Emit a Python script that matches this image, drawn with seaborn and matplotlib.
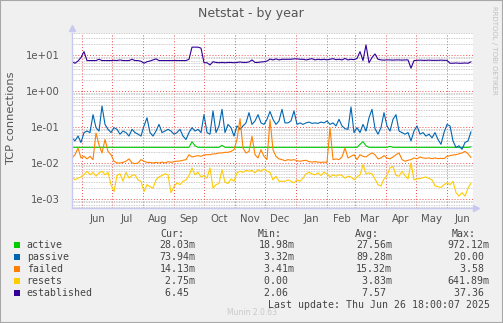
import numpy as np
import pandas as pd
import matplotlib
matplotlib.use("Agg")
import matplotlib.pyplot as plt
import matplotlib.dates as mdates
from matplotlib.ticker import LogLocator, NullFormatter, FixedFormatter
from matplotlib.patches import Rectangle
import seaborn as sns

# ---- data: samples every 3 days, 2024-05-22 .. 2025-06-25 ----
start_date = "2024-05-22"
n_samples = 134

active = [
    0.0272, 0.0272, 0.0272, 0.0272, 0.0272, 0.0272, 0.0272, 0.0272, 0.0272, 0.0272,
    0.0272, 0.0272, 0.0272, 0.0272, 0.0272, 0.0272, 0.0272, 0.0272, 0.0272, 0.0272,
    0.0272, 0.0272, 0.0272, 0.0272, 0.0272, 0.0272, 0.0272, 0.0272, 0.0272, 0.0272,
    0.0272, 0.0272, 0.0272, 0.0272, 0.0272, 0.0272, 0.0272, 0.0272, 0.0272, 0.0272,
    0.039, 0.030, 0.0272, 0.0272, 0.0272, 0.0272, 0.0272, 0.0272, 0.0272, 0.0272,
    0.031, 0.0272, 0.0272, 0.0272, 0.0272, 0.0272, 0.0272, 0.0272, 0.0272, 0.0272,
    0.0272, 0.0272, 0.0272, 0.0272, 0.0272, 0.0272, 0.0272, 0.0272, 0.0272, 0.0272,
    0.0272, 0.0272, 0.0272, 0.0272, 0.0272, 0.0272, 0.0272, 0.0272, 0.0272, 0.0272,
    0.0272, 0.0272, 0.0272, 0.0272, 0.0272, 0.0272, 0.0272, 0.0272, 0.0272, 0.0272,
    0.0272, 0.0272, 0.0272, 0.0272, 0.0272, 0.0272, 0.033, 0.039, 0.030, 0.0272,
    0.0272, 0.0272, 0.0272, 0.0272, 0.0272, 0.0272, 0.029, 0.0272, 0.0272, 0.0272,
    0.0272, 0.0272, 0.0272, 0.0272, 0.0272, 0.0272, 0.0272, 0.0272, 0.0272, 0.0272,
    0.0272, 0.0272, 0.0272, 0.0272, 0.0272, 0.0272, 0.0272, 0.0272, 0.0272, 0.0272,
    0.0272, 0.0272, 0.0272, 0.02803,
]

passive = [
    0.050, 0.041, 0.056, 0.037, 0.070, 0.077, 0.070, 0.22, 0.096, 0.077,
    0.38, 0.118, 0.086, 0.070, 0.096, 0.086, 0.063, 0.077, 0.070, 0.056,
    0.086, 0.070, 0.063, 0.056, 0.107, 0.18, 0.070, 0.056, 0.077, 0.118,
    0.070, 0.077, 0.086, 0.077, 0.063, 0.070, 0.086, 0.056, 0.045, 0.070,
    0.096, 0.077, 0.086, 0.070, 0.22, 0.070, 0.063, 0.28, 0.070, 0.107,
    0.31, 0.070, 0.118, 0.096, 0.056, 0.107, 0.086, 0.107, 0.13, 0.25,
    0.118, 0.147, 0.22, 0.13, 0.118, 0.163, 0.27, 0.163, 0.118, 0.147,
    0.31, 0.13, 0.13, 0.147, 0.28, 0.118, 0.13, 0.118, 0.13, 0.137,
    0.126, 0.13, 0.126, 0.137, 0.13, 0.147, 0.118, 0.13, 0.107, 0.163,
    0.107, 0.090, 0.086, 0.36, 0.070, 0.096, 0.070, 0.118, 0.077, 0.18,
    0.31, 0.090, 0.063, 0.096, 0.25, 0.107, 0.077, 0.163, 0.22, 0.077,
    0.070, 0.063, 0.070, 0.041, 0.077, 0.107, 0.063, 0.070, 0.056, 0.063,
    0.050, 0.070, 0.045, 0.033, 0.070, 0.118, 0.107, 0.041, 0.027, 0.030,
    0.024, 0.037, 0.041, 0.07394,
]

failed = [
    0.0138, 0.017, 0.026, 0.0138, 0.0153, 0.013, 0.0153, 0.0124, 0.068, 0.032,
    0.019, 0.045, 0.021, 0.017, 0.0112, 0.0100, 0.0100, 0.0104, 0.0112, 0.013,
    0.0100, 0.0096, 0.0100, 0.0124, 0.0112, 0.0104, 0.0104, 0.0100, 0.0104, 0.0100,
    0.0106, 0.0100, 0.0109, 0.0104, 0.0109, 0.0112, 0.0114, 0.0119, 0.0124, 0.017,
    0.0147, 0.0153, 0.016, 0.0153, 0.0167, 0.017, 0.017, 0.0178, 0.018, 0.019,
    0.019, 0.0198, 0.0198, 0.021, 0.0234, 0.045, 0.17, 0.026, 0.019, 0.021,
    0.055, 0.017, 0.0138, 0.0234, 0.0153, 0.0124, 0.16, 0.0234, 0.0153, 0.013,
    0.0124, 0.0116, 0.0124, 0.0119, 0.0124, 0.0116, 0.0112, 0.0116, 0.0119, 0.0109,
    0.0106, 0.0109, 0.0106, 0.0104, 0.0106, 0.0104, 0.095, 0.0124, 0.013, 0.0124,
    0.0147, 0.026, 0.0138, 0.0153, 0.017, 0.0124, 0.017, 0.0153, 0.0147, 0.017,
    0.019, 0.017, 0.013, 0.0138, 0.016, 0.0138, 0.013, 0.0147, 0.017, 0.019,
    0.0124, 0.0112, 0.0119, 0.0124, 0.0138, 0.013, 0.0147, 0.0138, 0.0135, 0.0138,
    0.0132, 0.0138, 0.0132, 0.0135, 0.0132, 0.0153, 0.016, 0.0167, 0.017, 0.018,
    0.019, 0.021, 0.018, 0.01413,
]

resets = [
    0.0041, 0.0034, 0.0038, 0.0041, 0.0047, 0.0059, 0.0047, 0.0055, 0.0043, 0.0053,
    0.0059, 0.0047, 0.0055, 0.0025, 0.0016, 0.0045, 0.0050, 0.0031, 0.0055, 0.0038,
    0.0045, 0.0047, 0.0034, 0.0031, 0.0016, 0.0025, 0.0022, 0.0020, 0.0034, 0.0041,
    0.0045, 0.0050, 0.0047, 0.0015, 0.0022, 0.0028, 0.0025, 0.0031, 0.0034, 0.0045,
    0.0073, 0.0047, 0.0055, 0.0041, 0.0045, 0.0038, 0.0073, 0.0020, 0.0025, 0.0027,
    0.0065, 0.0029, 0.0027, 0.0036, 0.0031, 0.0053, 0.0059, 0.0055, 0.0062, 0.0059,
    0.0062, 0.0053, 0.0065, 0.0059, 0.0068, 0.0059, 0.0055, 0.0034, 0.0043, 0.0031,
    0.0031, 0.0031, 0.0034, 0.0031, 0.0028, 0.0034, 0.0031, 0.0038, 0.0050, 0.0055,
    0.0050, 0.0047, 0.0053, 0.0045, 0.0055, 0.0050, 0.0041, 0.0047, 0.0043, 0.0047,
    0.0045, 0.0038, 0.0043, 0.0041, 0.0034, 0.0041, 0.0047, 0.0090, 0.0050, 0.0053,
    0.0050, 0.0036, 0.0025, 0.0023, 0.0036, 0.0045, 0.0073, 0.0080, 0.0045, 0.0043,
    0.0059, 0.0045, 0.0036, 0.0100, 0.0034, 0.0036, 0.0037, 0.0039, 0.0041, 0.0037,
    0.0034, 0.0023, 0.0022, 0.0021, 0.0025, 0.0028, 0.0025, 0.0031, 0.0015, 0.0012,
    0.0015, 0.0012, 0.0020, 0.00275,
]

established = [
    6.5, 5.9, 6.8, 8.5, 12.4, 7.0, 7.0, 7.0, 7.0, 7.6,
    7.0, 7.0, 7.0, 7.0, 7.1, 7.0, 7.3, 7.0, 7.0, 7.0,
    7.6, 7.0, 7.0, 6.7, 5.9, 6.5, 6.8, 7.3, 7.8, 7.0,
    7.0, 7.0, 7.0, 7.0, 7.0, 7.0, 7.0, 7.0, 7.0, 7.6,
    16.5, 16.5, 16.5, 15.5, 6.1, 6.1, 5.3, 6.5, 6.2, 6.1,
    6.2, 6.1, 6.2, 6.2, 6.1, 6.2, 6.4, 6.2, 6.2, 6.4,
    7.3, 6.2, 6.2, 6.4, 6.5, 6.8, 7.7, 7.3, 7.8, 7.3,
    7.6, 7.6, 7.6, 7.6, 7.8, 7.8, 7.6, 7.6, 7.3, 7.6,
    7.9, 7.3, 7.6, 7.4, 7.6, 7.3, 7.6, 7.9, 7.4, 7.6,
    7.3, 8.0, 7.3, 7.6, 7.4, 8.0, 12.4, 7.0, 19.0, 6.1,
    8.5, 10.7, 7.6, 7.3, 7.2, 7.3, 7.3, 7.2, 7.3, 7.3,
    7.2, 7.3, 7.3, 4.3, 7.0, 7.1, 7.2, 7.1, 7.1, 7.2,
    7.1, 7.1, 7.1, 7.2, 7.1, 7.1, 5.9, 5.9, 6.0, 5.9,
    5.9, 6.0, 5.9, 6.45,
]

series_names = ["active", "passive", "failed", "resets", "established"]
series_colors = ["#00CC00", "#0066B3", "#FF8000", "#FFCC00", "#330099"]
cur_vals = ["28.03m", "73.94m", "14.13m", " 2.75m", " 6.45 "]
min_vals = ["18.98m", " 3.32m", " 3.41m", " 0.00 ", " 2.06 "]
avg_vals = ["27.56m", "89.28m", "15.32m", " 3.83m", " 7.57 "]
max_vals = ["972.12m", " 20.00 ", "  3.58 ", "641.89m", " 37.36 "]
month_labels = ["Jun", "Jul", "Aug", "Sep", "Oct", "Nov", "Dec",
                "Jan", "Feb", "Mar", "Apr", "May", "Jun"]

for s in (active, passive, failed, resets, established):
    assert len(s) == n_samples, len(s)

dates = pd.date_range(start_date, periods=n_samples, freq="3D")
df = pd.DataFrame({"date": dates, "active": active, "passive": passive,
                   "failed": failed, "resets": resets, "established": established})
long_df = df.melt(id_vars="date", var_name="series", value_name="value")

# ---- figure ----
sns.set_theme(style="white")
plt.rcParams["font.family"] = ["DejaVu Sans"]

W, H = 503, 323
fig = plt.figure(figsize=(W / 100, H / 100), dpi=100, facecolor="#F0F0F0")

def fx(px):
    return px / W

def fy(py):
    return 1 - py / H

ax = fig.add_axes([fx(72), fy(208), fx(401), 175 / H])
ax.set_facecolor("white")
ax.set_yscale("log")

sns.lineplot(data=long_df, x="date", y="value", hue="series",
             hue_order=series_names, palette=dict(zip(series_names, series_colors)),
             estimator=None, linewidth=0.8, legend=False, ax=ax)

ax.set_ylim(5.62e-4, 40.8)
ax.set_xlim(pd.Timestamp("2024-05-22"), pd.Timestamp("2025-06-27"))
ax.set_xlabel("")
ax.set_ylabel("")

# y grid: decades reddish, sub-decades grey, all dotted
ax.yaxis.set_major_locator(LogLocator(base=10, numticks=12))
ax.yaxis.set_minor_locator(LogLocator(base=10, subs=np.arange(2, 10), numticks=12))
ax.yaxis.set_minor_formatter(NullFormatter())
ax.yaxis.set_major_formatter(matplotlib.ticker.FuncFormatter(
    lambda v, p: "%.0e" % v if v > 0 else ""))

# x grid at month starts, labels mid-month
ax.xaxis.set_major_locator(mdates.MonthLocator())
ax.xaxis.set_major_formatter(NullFormatter())
ax.xaxis.set_minor_locator(mdates.MonthLocator(bymonthday=16))
ax.xaxis.set_minor_formatter(FixedFormatter(month_labels))

ax.grid(which="major", axis="both", color=(0.95, 0.3, 0.3, 0.45),
        linestyle=(0, (1, 2)), linewidth=0.7)
ax.grid(which="minor", axis="y", color="#BDBDBD",
        linestyle=(0, (1, 1)), linewidth=0.6)
ax.set_axisbelow(True)

ax.tick_params(axis="both", which="both", length=0)
ax.tick_params(axis="y", which="major", pad=9, labelsize=7.3, labelcolor="#555555")
ax.tick_params(axis="x", which="minor", pad=4, labelsize=7.3, labelcolor="#555555")

for side in ("top", "right"):
    ax.spines[side].set_visible(False)
for side in ("left", "bottom"):
    ax.spines[side].set_color("#C8C8F0")
    ax.spines[side].set_linewidth(1.0)
ax.plot([0], [1.03], marker="^", color="#C8C8F0", markersize=4,
        transform=ax.transAxes, clip_on=False)
ax.plot([1.008], [0], marker=">", color="#C8C8F0", markersize=4,
        transform=ax.transAxes, clip_on=False)

# ---- texts ----
fig.text(fx(251), fy(14), "Netstat - by year", ha="center", va="center",
         fontsize=9, color="#555555")
fig.text(fx(11), fy(118), "TCP connections", ha="center", va="center",
         rotation=90, fontsize=8.2, color="#555555")
fig.text(fx(494), fy(6), "RRDTOOL / TOBI OETIKER", ha="center", va="top",
         rotation=270, fontsize=5, color="#C0C0C0")

mono = dict(family="DejaVu Sans Mono", fontsize=7.15, color="#444444", va="center")
for label, x in (("Cur:", 160.7), ("Min:", 257.7), ("Avg:", 355), ("Max:", 452)):
    fig.text(fx(x), fy(234), label, **mono)

row_y = [245, 257, 269, 281, 293]
for name, color, cur, mn, avg, mx, y in zip(series_names, series_colors, cur_vals,
                                             min_vals, avg_vals, max_vals, row_y):
    fig.add_artist(Rectangle((fx(14), fy(y + 3)), 6 / W, 6 / H, facecolor=color,
                             edgecolor="none", transform=fig.transFigure))
    fig.text(fx(26.7), fy(y), name, **mono)
    fig.text(fx(159.3), fy(y), cur, **mono)
    fig.text(fx(258.3), fy(y), mn, **mono)
    fig.text(fx(356), fy(y), avg, **mono)
    fig.text(fx(447.7), fy(y), mx, **mono)

fig.text(fx(267.7), fy(305), "Last update: Thu Jun 26 18:00:07 2025", **mono)
fig.text(fx(252), fy(312.5), "Munin 2.0.63", ha="center", va="center",
         fontsize=5.5, color="#C8C8C8")

# outer frame
fig.add_artist(Rectangle((0, 0), 1, 1, facecolor="none", edgecolor="#A8A8A8",
                         linewidth=1.5, transform=fig.transFigure))

fig.savefig("out.png", dpi=100, facecolor=fig.get_facecolor())
